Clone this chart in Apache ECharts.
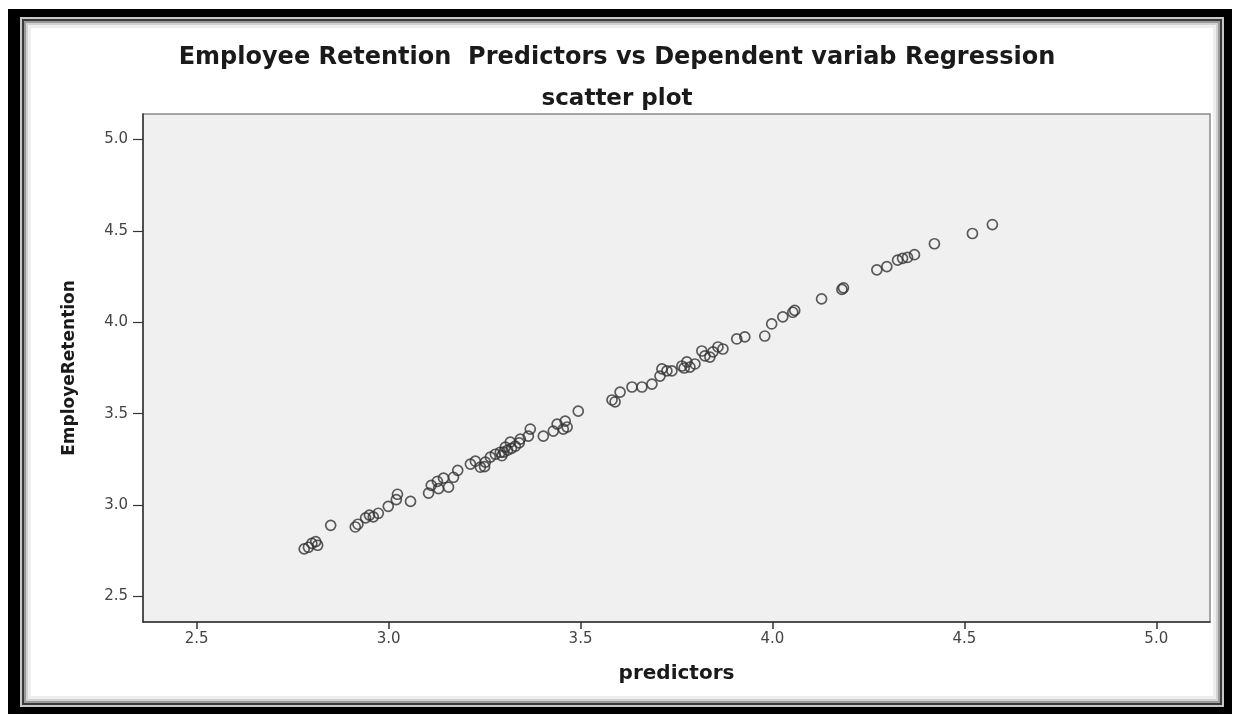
<!DOCTYPE html>
<html>
<head>
<meta charset="utf-8">
<script src="https://cdn.jsdelivr.net/npm/echarts@6/dist/echarts.min.js"></script>
<style>
html,body{margin:0;padding:0;background:#fff;}
#c{width:1234px;height:715px;}
</style>
</head>
<body>
<div id="c"></div>
<script>
const titleLine1 = "Employee Retention  Predictors vs Dependent variab Regression";
const titleLine2 = "scatter plot";
const xAxisName = "predictors";
const yAxisName = "EmployeRetention";
const tickValues = [2.5, 3.0, 3.5, 4.0, 4.5, 5.0];

const predictors = [
  2.780, 2.791, 2.800, 2.810, 2.815,
  2.849,
  2.913, 2.920,
  2.940, 2.950, 2.960,
  2.973, 2.999,
  3.020, 3.023, 3.057,
  3.104, 3.111, 3.127, 3.130, 3.143, 3.156, 3.169, 3.180,
  3.213, 3.226, 3.239, 3.252, 3.265, 3.278, 3.291, 3.304, 3.317, 3.330,
  3.343, 3.364, 3.369, 3.403, 3.429, 3.439, 3.460, 3.465, 3.455, 3.494,
  3.250, 3.300, 3.310, 3.320, 3.295, 3.340,
  3.582, 3.590, 3.603, 3.634, 3.660, 3.686, 3.707, 3.725,
  3.712, 3.738, 3.764, 3.777, 3.785, 3.798, 3.770,
  3.816, 3.824, 3.837, 3.845, 3.858, 3.871,
  3.907, 3.928, 3.980, 3.998, 4.027, 4.053, 4.058,
  4.128, 4.181, 4.185,
  4.272, 4.298, 4.326, 4.339, 4.352, 4.370, 4.422, 4.521, 4.573
];
const retention = [
  2.760, 2.769, 2.790, 2.800, 2.780,
  2.889,
  2.880, 2.895,
  2.930, 2.945, 2.935,
  2.955, 2.993,
  3.030, 3.059, 3.020,
  3.065, 3.108, 3.130, 3.090, 3.147, 3.098, 3.152, 3.190,
  3.224, 3.240, 3.207, 3.235, 3.262, 3.278, 3.289, 3.317, 3.344, 3.322,
  3.361, 3.377, 3.416, 3.377, 3.405, 3.443, 3.459, 3.427, 3.416, 3.514,
  3.210, 3.290, 3.300, 3.310, 3.270, 3.340,
  3.575, 3.565, 3.618, 3.646, 3.646, 3.662, 3.706, 3.734,
  3.745, 3.734, 3.761, 3.783, 3.755, 3.772, 3.750,
  3.843, 3.816, 3.810, 3.838, 3.865, 3.854,
  3.909, 3.920, 3.925, 3.991, 4.030, 4.055, 4.065,
  4.128, 4.180, 4.189,
  4.287, 4.305, 4.340, 4.350, 4.355, 4.370, 4.430, 4.486, 4.535
];

const points = predictors.map((x, i) => [x, retention[i]]);

const chart = echarts.init(document.getElementById('c'), null, {renderer: 'canvas'});

function frameRect(x1, y1, x2, y2, fill) {
  return {type: 'rect', silent: true, z: -10,
    shape: {x: x1, y: y1, width: x2 - x1, height: y2 - y1},
    style: {fill: fill}};
}

const option = {
  backgroundColor: '#ffffff',
  animation: false,
  graphic: [
    frameRect(8, 9, 1232, 714, '#000000'),
    frameRect(20, 17, 1224, 707, '#c8c8c8'),
    frameRect(22, 19, 1222, 705, '#3a3a3a'),
    frameRect(24, 21, 1220, 703, '#9a9a9a'),
    frameRect(26, 23, 1218, 701, '#d2d2d2'),
    frameRect(28, 25, 1216, 699, '#eeeeee'),
    frameRect(31, 28, 1213, 696, '#ffffff')
  ],
  title: [
    {text: titleLine1, left: 'center', top: 41,
     textStyle: {fontFamily: 'DejaVu Sans', fontWeight: 'bold', fontSize: 24, color: '#1a1a1a'}},
    {text: titleLine2, left: 'center', top: 83,
     textStyle: {fontFamily: 'DejaVu Sans', fontWeight: 'bold', fontSize: 23, color: '#1a1a1a'}}
  ],
  grid: {left: 143, top: 114, right: 24, bottom: 93, show: true,
         backgroundColor: '#f0f0f0', borderColor: '#8a8a8a', borderWidth: 1.5},
  xAxis: {
    type: 'value', min: 2.36, max: 5.14,
    name: xAxisName, nameLocation: 'middle', nameGap: 42,
    nameTextStyle: {fontFamily: 'DejaVu Sans', fontWeight: 'bold', fontSize: 20, color: '#1a1a1a'},
    axisLine: {show: true, onZero: false, lineStyle: {color: '#333', width: 1.5}},
    axisTick: {show: true, length: 7, customValues: tickValues, lineStyle: {color: '#333', width: 1.5}},
    axisLabel: {customValues: tickValues, margin: 10, color: '#444',
      fontFamily: 'DejaVu Sans', fontSize: 15, formatter: v => v.toFixed(1)},
    splitLine: {show: false}
  },
  yAxis: {
    type: 'value', min: 2.36, max: 5.14,
    name: yAxisName, nameLocation: 'middle', nameGap: 65,
    nameTextStyle: {fontFamily: 'DejaVu Sans', fontWeight: 'bold', fontSize: 17, color: '#1a1a1a'},
    axisLine: {show: true, onZero: false, lineStyle: {color: '#333', width: 1.5}},
    axisTick: {show: true, length: 10, customValues: tickValues, lineStyle: {color: '#333', width: 1.2}},
    axisLabel: {customValues: tickValues, margin: 15, color: '#444',
      fontFamily: 'DejaVu Sans', fontSize: 15, formatter: v => v.toFixed(1)},
    splitLine: {show: false}
  },
  series: [{
    type: 'scatter',
    data: points,
    symbol: 'circle',
    symbolSize: 10,
    itemStyle: {color: 'rgba(0,0,0,0)', borderColor: '#333333', borderWidth: 1.7}
  }]
};
chart.setOption(option);
</script>
</body>
</html>
